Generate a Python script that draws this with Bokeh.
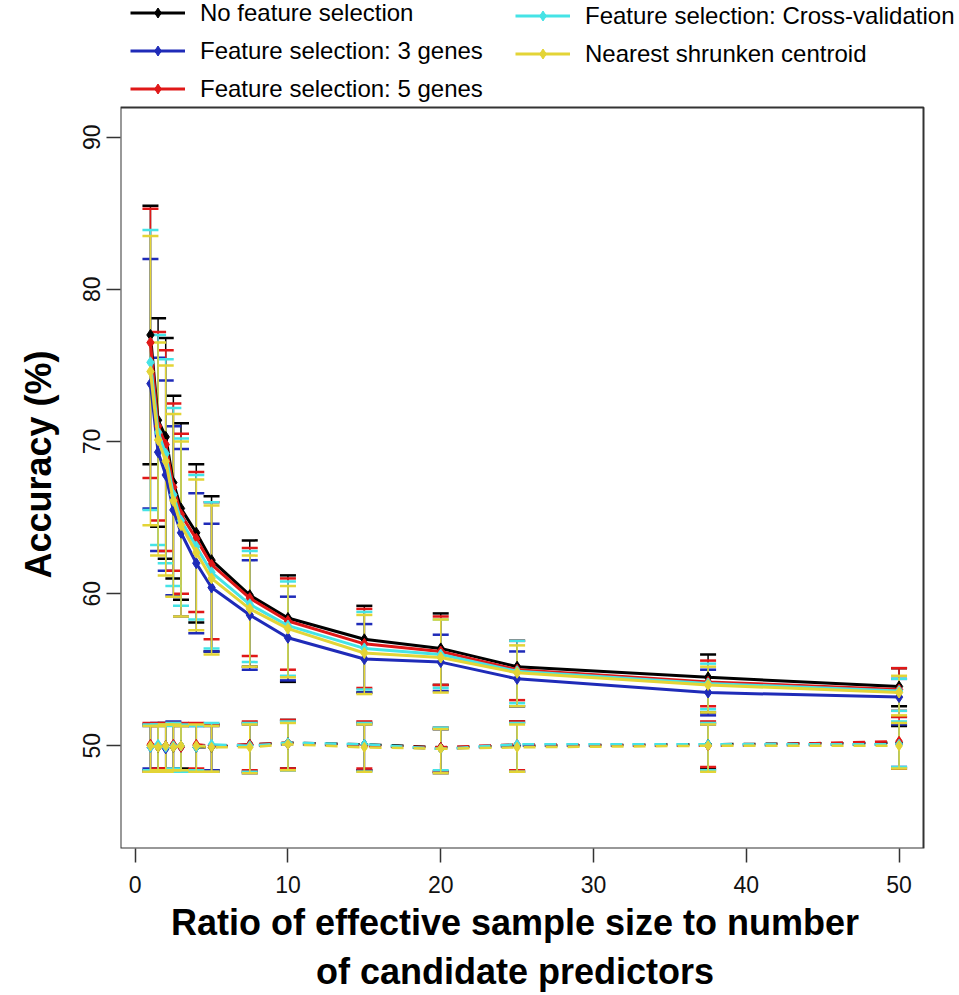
from bokeh.plotting import figure
from bokeh.models import Legend, LegendItem, FixedTicker, Range1d
from bokeh.embed import file_html
from bokeh.resources import INLINE

# ---------------- data ----------------
ratio = [1, 1.5, 2, 2.5, 3, 4, 5, 7.5, 10, 15, 20, 25, 37.5, 50]

labels = ["No feature selection", "Feature selection: 3 genes", "Feature selection: 5 genes",
          "Feature selection: Cross-validation", "Nearest shrunken centroid"]
colors = ["#000000", "#1f2bb8", "#e01818", "#45e3e6", "#e3d436"]

# true-signal accuracy (solid lines)
nofs = [77.0, 71.4, 70.3, 67.3, 65.6, 64.0, 62.2, 59.9, 58.4, 57.0, 56.4, 55.2, 54.5, 53.9]
fs3 = [73.8, 69.3, 67.8, 65.5, 64.0, 62.0, 60.4, 58.6, 57.1, 55.7, 55.5, 54.4, 53.5, 53.2]
fs5 = [76.5, 71.0, 69.8, 67.0, 65.2, 63.6, 61.9, 59.7, 58.2, 56.7, 56.2, 55.0, 54.2, 53.7]
fscv = [75.2, 70.6, 69.2, 66.5, 64.8, 63.1, 61.4, 59.3, 57.9, 56.4, 56.0, 54.9, 54.1, 53.6]
nsc = [74.6, 70.1, 68.7, 66.1, 64.5, 62.7, 61.0, 59.0, 57.7, 56.1, 55.8, 54.8, 54.0, 53.5]

nofs_hi = [85.5, 78.1, 76.8, 73.0, 71.2, 68.5, 66.4, 63.5, 61.2, 59.2, 58.7, 56.9, 56.0, 55.1]
nofs_lo = [68.5, 64.4, 62.3, 61.0, 59.6, 58.1, 56.2, 55.2, 54.2, 53.5, 54.0, 52.6, 52.2, 52.6]
fs3_hi = [82.0, 75.5, 74.0, 71.0, 69.5, 66.6, 64.6, 62.2, 59.8, 58.0, 57.3, 56.2, 55.0, 54.4]
fs3_lo = [65.6, 62.8, 61.5, 59.9, 58.5, 57.4, 56.2, 55.0, 54.3, 53.5, 53.6, 52.6, 52.0, 51.9]
fs5_hi = [85.3, 77.2, 76.0, 72.5, 70.5, 68.0, 66.0, 63.0, 61.0, 59.0, 58.5, 56.9, 55.6, 55.1]
fs5_lo = [67.6, 64.8, 62.8, 61.5, 60.0, 58.8, 57.0, 55.9, 55.0, 53.8, 54.0, 53.0, 52.6, 52.3]
fscv_hi = [83.9, 77.0, 75.4, 72.2, 70.2, 67.8, 66.0, 62.8, 60.8, 58.8, 58.3, 56.9, 55.4, 54.4]
fscv_lo = [65.5, 63.2, 62.0, 60.5, 59.2, 58.3, 56.4, 55.5, 54.6, 53.7, 53.8, 52.8, 52.4, 52.3]
nsc_hi = [83.5, 76.5, 75.0, 71.8, 70.0, 67.5, 65.8, 62.5, 60.5, 58.6, 58.3, 56.6, 55.2, 54.6]
nsc_lo = [64.5, 62.5, 61.2, 59.8, 58.5, 57.6, 56.0, 55.2, 54.5, 53.4, 53.5, 52.6, 52.2, 52.0]

# null-signal accuracy (dashed lines)
nofs_null = [50.0, 49.9, 50.0, 49.9, 50.0, 49.9, 49.9, 50.1, 50.2, 50.1, 49.9, 50.0, 50.1, 50.2]
fs3_null = [49.9, 50.0, 49.8, 50.0, 49.9, 50.0, 50.0, 50.0, 50.1, 50.0, 49.8, 50.0, 50.0, 50.1]
fs5_null = [50.1, 50.0, 50.0, 50.1, 49.9, 50.1, 50.0, 50.1, 50.2, 50.0, 49.9, 50.1, 50.0, 50.3]
fscv_null = [49.9, 50.1, 49.9, 50.0, 50.0, 49.9, 50.1, 50.0, 50.2, 50.1, 49.8, 50.1, 50.1, 50.1]
nsc_null = [50.0, 49.9, 50.0, 49.9, 50.0, 50.0, 49.9, 49.9, 50.1, 49.9, 49.8, 49.9, 50.0, 50.0]

nofs_null_hi = [51.4, 51.4, 51.5, 51.5, 51.3, 51.4, 51.4, 51.5, 51.7, 51.5, 51.1, 51.6, 51.5, 51.3]
nofs_null_lo = [48.4, 48.5, 48.4, 48.4, 48.5, 48.4, 48.4, 48.3, 48.5, 48.4, 48.3, 48.3, 48.5, 48.5]
fs3_null_hi = [51.3, 51.5, 51.4, 51.6, 51.4, 51.3, 51.3, 51.4, 51.6, 51.4, 51.1, 51.5, 51.4, 51.4]
fs3_null_lo = [48.5, 48.4, 48.3, 48.5, 48.4, 48.3, 48.4, 48.2, 48.4, 48.4, 48.2, 48.3, 48.4, 48.6]
fs5_null_hi = [51.5, 51.3, 51.5, 51.4, 51.5, 51.5, 51.4, 51.6, 51.7, 51.6, 51.2, 51.6, 51.6, 51.9]
fs5_null_lo = [48.3, 48.5, 48.5, 48.3, 48.4, 48.5, 48.3, 48.4, 48.5, 48.5, 48.3, 48.4, 48.6, 48.5]
fscv_null_hi = [51.4, 51.4, 51.3, 51.5, 51.4, 51.3, 51.5, 51.5, 51.6, 51.5, 51.2, 51.5, 51.5, 51.6]
fscv_null_lo = [48.4, 48.3, 48.4, 48.5, 48.3, 48.4, 48.3, 48.3, 48.4, 48.3, 48.4, 48.3, 48.4, 48.6]
nsc_null_hi = [51.3, 51.3, 51.4, 51.4, 51.3, 51.4, 51.3, 51.4, 51.5, 51.4, 51.1, 51.4, 51.4, 51.5]
nsc_null_lo = [48.3, 48.4, 48.3, 48.4, 48.4, 48.3, 48.3, 48.2, 48.4, 48.3, 48.2, 48.3, 48.3, 48.5]

x_ticks = [0, 10, 20, 30, 40, 50]
y_ticks = [50, 60, 70, 80, 90]

# plot-box limits (R style: data range + 4%)
x_lo, x_hi = -0.96, 51.6
y_lo, y_hi = 43.25, 91.95

series = [
    (nofs, nofs_lo, nofs_hi, nofs_null, nofs_null_lo, nofs_null_hi),
    (fs3, fs3_lo, fs3_hi, fs3_null, fs3_null_lo, fs3_null_hi),
    (fs5, fs5_lo, fs5_hi, fs5_null, fs5_null_lo, fs5_null_hi),
    (fscv, fscv_lo, fscv_hi, fscv_null, fscv_null_lo, fscv_null_hi),
    (nsc, nsc_lo, nsc_hi, nsc_null, nsc_null_lo, nsc_null_hi),
]

FONT = "Liberation Sans"
NB = "\u00a0"

# frame: plot box (803 x 741 px) plus the legend strip above and a margin at right
BOX_W, BOX_H, TOP_PAD, RIGHT_PAD = 803, 741, 107, 36
px_x = (x_hi - x_lo) / BOX_W
px_y = (y_hi - y_lo) / BOX_H

p = figure(frame_width=BOX_W + RIGHT_PAD, frame_height=BOX_H + TOP_PAD,
           min_border_left=120, min_border_top=0, min_border_right=0, min_border_bottom=140,
           x_range=Range1d(x_lo, x_hi + RIGHT_PAD * px_x),
           y_range=Range1d(y_lo, y_hi + TOP_PAD * px_y),
           output_backend="svg", toolbar_location=None)

p.xgrid.visible = False
p.ygrid.visible = False
p.outline_line_color = None
p.background_fill_color = "white"
p.border_fill_color = "white"

# plot box
p.quad(left=[x_lo], right=[x_hi], bottom=[y_lo], top=[y_hi], fill_alpha=0,
       line_color="#333333", line_width=2)

# error bars first (so the lines sit on top)
for (m, lo, hi, mn, nlo, nhi), c in zip(series, colors):
    p.segment(x0=ratio, y0=lo, x1=ratio, y1=hi, line_color=c, line_width=1.5)
    p.scatter(ratio, hi, marker="dash", size=16, line_color=c, line_width=2.5)
    p.scatter(ratio, lo, marker="dash", size=16, line_color=c, line_width=2.5)
    p.segment(x0=ratio, y0=nlo, x1=ratio, y1=nhi, line_color=c, line_width=1.5)
    p.scatter(ratio, nhi, marker="dash", size=16, line_color=c, line_width=2.5)
    p.scatter(ratio, nlo, marker="dash", size=16, line_color=c, line_width=2.5)

items = []
for (m, lo, hi, mn, nlo, nhi), c, lab in zip(series, colors, labels):
    p.line(ratio, mn, line_color=c, line_width=2.5, line_dash="12 10")
    p.scatter(ratio, mn, marker="diamond", size=10, fill_color=c, line_color=c)
    lr = p.line(ratio, m, line_color=c, line_width=3)
    sr = p.scatter(ratio, m, marker="diamond", size=11, fill_color=c, line_color=c)
    items.append(LegendItem(label=lab, renderers=[lr, sr]))

# axes
for ax in (p.xaxis[0], p.yaxis[0]):
    ax.axis_line_color = None
    ax.major_tick_out = 14
    ax.major_tick_in = 0
    ax.minor_tick_out = 0
    ax.minor_tick_in = 0
    ax.major_tick_line_color = "#333333"
    ax.major_tick_line_width = 1.5
    ax.major_label_text_font = FONT
    ax.major_label_text_font_size = "23px"
    ax.major_label_text_color = "#111111"
    ax.axis_label_text_font = FONT
    ax.axis_label_text_font_style = "bold"
    ax.axis_label_text_font_size = "36px"
    ax.axis_label_text_color = "#000000"

p.xaxis.ticker = FixedTicker(ticks=x_ticks)
p.yaxis.ticker = FixedTicker(ticks=y_ticks)
p.xaxis.bounds = (x_lo, x_hi)
p.yaxis.bounds = (y_lo, y_hi)
# trailing no-break spaces re-centre the titles on the plot box (the frame also holds the legend strip)
p.xaxis.axis_label = ("Ratio of effective sample size to number" + NB * 5 + "\n"
                      + "of candidate predictors" + NB * 5)
p.yaxis.axis_label = "Accuracy (%)" + NB * 8
p.xaxis.major_label_standoff = 13
p.yaxis.major_label_standoff = 6
p.yaxis.major_label_orientation = "vertical"
p.xaxis.axis_label_standoff = 6
p.yaxis.axis_label_standoff = 22


def make_legend(its, loc):
    return Legend(items=its, location=loc, orientation="vertical",
                  glyph_width=55, glyph_height=25, label_height=25,
                  spacing=10, label_standoff=15, padding=0, margin=0,
                  border_line_color=None, background_fill_alpha=0.0,
                  label_text_font=FONT, label_text_font_size="24px",
                  label_text_color="#000000")


frame_h = BOX_H + TOP_PAD
p.add_layout(make_legend(items[:3], (10, frame_h - 102.5)))
p.add_layout(make_legend(items[3:], (395, frame_h - 67.5)))

open("out.html", "w").write(file_html(p, INLINE))
